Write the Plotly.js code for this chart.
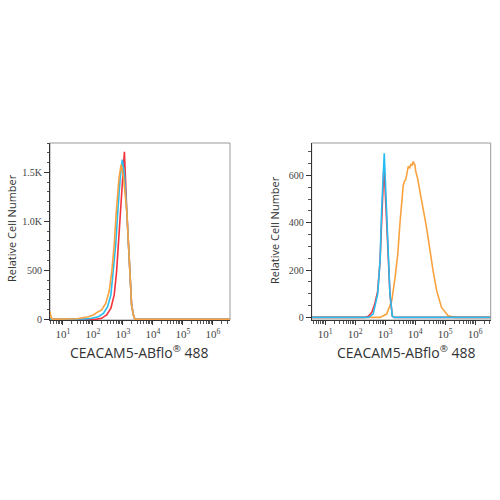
<!DOCTYPE html>
<html>
<head>
<meta charset="utf-8">
<script src="https://cdn.plot.ly/plotly-3.0.1.min.js"></script>
<style>html,body{margin:0;padding:0;background:#fff}#chart{width:500px;height:500px}</style>
</head>
<body>
<div id="chart"></div>
<script>
// ---- data (x in log10 fluorescence units, y = cell count) ----
const decades = [1, 2, 3, 4, 5, 6];
const decadeLabels = ['10<sup>1</sup>', '10<sup>2</sup>', '10<sup>3</sup>', '10<sup>4</sup>', '10<sup>5</sup>', '10<sup>6</sup>'];

const leftYTicks = [0, 500, 1000, 1500];
const leftYLabels = ['0', '500', '1.0K', '1.5K'];
const rightYTicks = [0, 200, 400, 600];
const rightYLabels = ['0', '200', '400', '600'];

const leftRedX = [0.57, 1.5, 2.1, 2.29, 2.46, 2.6, 2.71, 2.79, 2.85, 2.9, 2.98, 3.05, 3.13, 3.18, 3.24, 3.29, 3.35, 3.4, 4.5, 6.57];
const leftRedY = [0, 0, 0, 10, 44, 113, 249, 487, 760, 1101, 1443, 1710, 1101, 760, 420, 146, 44, 0, 0, 0];

const leftBlueX = [0.57, 1.5, 1.74, 1.96, 2.18, 2.35, 2.49, 2.6, 2.68, 2.76, 2.83, 2.91, 2.98, 3.05, 3.13, 3.18, 3.24, 3.29, 3.35, 3.4, 4.5, 6.57];
const leftBlueY = [0, 0, 3, 10, 27, 61, 130, 249, 487, 760, 1101, 1443, 1630, 1480, 1101, 760, 420, 146, 44, 0, 0, 0];

const leftOrangeX = [0.57, 0.6, 0.65, 1.46, 1.85, 2.01, 2.18, 2.29, 2.43, 2.54, 2.63, 2.71, 2.78, 2.87, 2.94, 3.02, 3.13, 3.18, 3.24, 3.29, 3.35, 3.4, 4.5, 6.57];
const leftOrangeY = [80, 30, 0, 5, 27, 44, 78, 95, 164, 283, 487, 760, 1101, 1443, 1579, 1450, 1101, 760, 420, 146, 44, 0, 0, 0];

const rightRedX = [0.55, 2.3, 2.44, 2.55, 2.65, 2.75, 2.83, 2.88, 2.96, 3.04, 3.1, 3.16, 3.24, 3.3, 4, 6.52];
const rightRedY = [0, 0, 5, 20, 55, 110, 238, 420, 645, 430, 238, 98, 5, 0, 0, 0];

const rightCyanX = [0.55, 2.3, 2.44, 2.6, 2.75, 2.83, 2.88, 2.97, 3.05, 3.1, 3.16, 3.24, 3.3, 4, 6.52];
const rightCyanY = [0, 0, 0, 14, 98, 238, 449, 694, 449, 238, 98, 5, 0, 0, 0];

const rightOrangeX = [0.55, 2.83, 3.05, 3.22, 3.33, 3.42, 3.49, 3.55, 3.6, 3.64, 3.68, 3.72, 3.77, 3.82, 3.86, 3.9, 3.94, 3.97, 3.99, 4.02, 4.05, 4.08, 4.12, 4.16, 4.22, 4.3, 4.38, 4.49, 4.6, 4.72, 4.88, 5.1, 5.32, 6.52];
const rightOrangeY = [0, 0, 14, 70, 168, 266, 392, 505, 555, 575, 580, 603, 638, 632, 648, 642, 659, 650, 645, 617, 605, 589, 560, 533, 505, 435, 379, 280, 196, 112, 42, 7, 0, 0];

const xTitle = 'CEACAM5-ABflo<sup>®</sup> 488';
const yTitle = 'Relative Cell Number';

// ---- styling ----
const RED = '#f2333d', BLUE = '#27bdf0', ORANGE = '#f9a23f';
const minorX = [];
for (let n = 0; n <= 6; n++) for (let k = 2; k <= 9; k++) minorX.push(Math.log10(k * Math.pow(10, n)));

function line(x, y, color, xa, ya) {
  return {x: x, y: y, type: 'scatter', mode: 'lines', xaxis: xa, yaxis: ya,
          line: {color: color, width: 1.6}, hoverinfo: 'skip', showlegend: false};
}

const traces = [
  line(leftRedX, leftRedY, RED, 'x', 'y'),
  line(leftBlueX, leftBlueY, BLUE, 'x', 'y'),
  line(leftOrangeX, leftOrangeY, ORANGE, 'x', 'y'),
  line(rightOrangeX, rightOrangeY, ORANGE, 'x2', 'y2'),
  line(rightRedX, rightRedY, RED, 'x2', 'y2'),
  line(rightCyanX, rightCyanY, BLUE, 'x2', 'y2')
];

const yTickFont = {family: 'Liberation Serif, DejaVu Serif, serif', size: 10, color: '#444'};
const xTickFont = {family: 'Liberation Serif, DejaVu Serif, serif', size: 11, color: '#444'};
function xAxis(domain, range, anchor) {
  return {domain: domain, range: range, anchor: anchor, showgrid: false, zeroline: false,
          tickmode: 'array', tickvals: decades, ticktext: decadeLabels, tickfont: xTickFont,
          ticks: 'outside', ticklen: 4, tickcolor: '#333', showline: true, linecolor: '#333', linewidth: 1,
          minor: {tickmode: 'array', tickvals: minorX, ticks: 'outside', ticklen: 2.5, tickcolor: '#555', showgrid: false}};
}
function yAxis(domain, range, anchor, vals, labels, minorStep) {
  return {domain: domain, range: range, anchor: anchor, showgrid: false, zeroline: false,
          tickmode: 'array', tickvals: vals, ticktext: labels, tickfont: yTickFont,
          ticks: 'outside', ticklen: 5, tickcolor: '#333', showline: true, linecolor: '#333', linewidth: 1,
          minor: {tickmode: 'linear', tick0: 0, dtick: minorStep, ticks: 'outside', ticklen: 2.5, tickcolor: '#555', showgrid: false}};
}

const titleFont = {family: 'Open Sans, Noto Sans, sans-serif', color: '#333'};
const layout = {
  width: 500, height: 500, margin: {l: 0, r: 0, t: 0, b: 0},
  paper_bgcolor: '#fff', plot_bgcolor: '#fff', showlegend: false,
  xaxis: xAxis([0.1, 0.46], [0.57, 6.57], 'y'),
  yaxis: yAxis([0.36, 0.714], [-7, 1800], 'x', leftYTicks, leftYLabels, 100),
  xaxis2: xAxis([0.6234, 0.9814], [0.55, 6.52], 'y2'),
  yaxis2: yAxis([0.36, 0.714], [-11, 737], 'x2', rightYTicks, rightYLabels, 50),
  shapes: [
    {type: 'rect', xref: 'x domain', yref: 'y domain', x0: 0, x1: 1, y0: 0, y1: 1, line: {color: '#999', width: 1}, layer: 'below'},
    {type: 'rect', xref: 'x2 domain', yref: 'y2 domain', x0: 0, x1: 1, y0: 0, y1: 1, line: {color: '#999', width: 1}, layer: 'below'}
  ],
  annotations: [
    {text: xTitle, xref: 'paper', yref: 'paper', x: 139 / 500, y: 1 - 352 / 500, showarrow: false, xanchor: 'center', yanchor: 'middle', font: Object.assign({size: 14}, titleFont)},
    {text: xTitle, xref: 'paper', yref: 'paper', x: 406 / 500, y: 1 - 352 / 500, showarrow: false, xanchor: 'center', yanchor: 'middle', font: Object.assign({size: 14}, titleFont)},
    {text: yTitle, xref: 'paper', yref: 'paper', x: 12 / 500, y: 1 - 228 / 500, showarrow: false, textangle: -90, xanchor: 'center', yanchor: 'middle', font: Object.assign({size: 11}, titleFont)},
    {text: yTitle, xref: 'paper', yref: 'paper', x: 275 / 500, y: 1 - 230 / 500, showarrow: false, textangle: -90, xanchor: 'center', yanchor: 'middle', font: Object.assign({size: 11}, titleFont)}
  ]
};

Plotly.newPlot('chart', traces, layout, {staticPlot: true, displayModeBar: false});
</script>
</body>
</html>
